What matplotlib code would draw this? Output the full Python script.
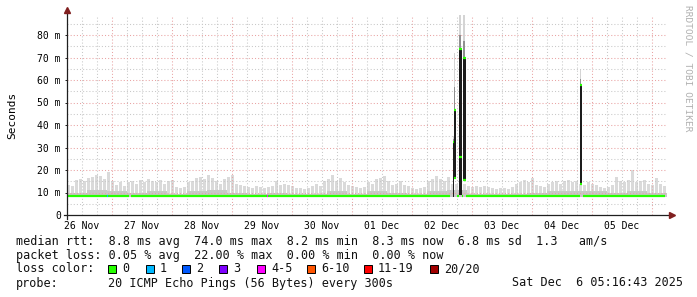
import numpy as np
import matplotlib
matplotlib.use("Agg")
import matplotlib.pyplot as plt
from matplotlib.lines import Line2D
from matplotlib.patches import Rectangle

# x axis: hours since 26 Nov 06:00, 10 days shown
day_labels = ["26 Nov", "27 Nov", "28 Nov", "29 Nov", "30 Nov",
              "01 Dec", "02 Dec", "03 Dec", "04 Dec", "05 Dec"]

# upper edge of the smoke (ms), one value per 1.6 h
smoke_hi = [
    13.5, 13.0, 15.5, 16.0, 15.0, 16.5, 17.0, 18.0, 17.5, 16.0, 19.0, 15.0, 13.5, 14.5, 13.0,
    14.5, 15.0, 14.0, 15.5, 14.5, 16.0, 15.0, 14.5, 15.5, 14.0, 15.0, 15.5, 12.5, 12.0, 12.5,
    14.5, 15.0, 16.5, 17.0, 16.0, 18.0, 16.5, 15.0, 14.0, 16.0, 17.0, 18.0, 14.0, 13.5, 13.0,
    12.5, 12.0, 13.0, 12.5, 12.0, 12.5, 13.0, 15.0, 13.5, 14.0, 13.5, 13.0, 12.0, 12.0, 11.5,
    12.0, 13.0, 14.0, 13.0, 15.0, 16.0, 18.0, 15.0, 16.5, 14.5, 13.5, 13.0, 12.5, 12.0, 12.5,
    14.5, 14.0, 16.0, 16.5, 17.5, 15.0, 13.5, 14.0, 15.0, 13.5, 13.0, 12.0, 11.5, 12.0, 12.5,
    15.0, 16.0, 17.5, 16.0, 15.0, 17.0, 14.0, 14.0, 14.0, 14.0, 13.0, 12.5, 13.0, 12.5, 13.0,
    12.5, 12.0, 11.5, 12.0, 12.0, 11.5, 12.5, 14.0, 14.5, 15.5, 14.5, 16.5, 13.5, 13.0, 12.5,
    14.0, 14.5, 15.0, 14.0, 15.0, 15.5, 14.5, 15.0, 14.0, 13.5, 14.5, 14.0, 13.5, 12.5, 12.0,
    12.5, 13.5, 17.0, 15.0, 14.5, 15.5, 20.0, 14.5, 15.0, 15.5, 14.0, 13.5, 16.5, 14.0, 13.0,
]
# top of the dense (darker) smoke band (ms), one value per 8 h
smoke_mid = [
    10.0, 11.0, 10.5, 10.0, 10.5, 9.5, 10.5, 11.0, 10.0, 9.5,
    10.0, 9.5, 9.5, 10.5, 9.5, 10.5, 10.0, 9.5, 10.5, 11.0,
    9.5, 9.5, 9.5, 10.0, 10.5, 10.5, 10.5, 10.0, 10.5, 10.0,
]
smoke_floor = 8.0

# loss spikes
spike_start = [154.3, 154.8, 156.9, 158.5, 205.2]
spike_width = [0.5, 0.8, 1.1, 1.1, 0.8]
spike_low = [8.2, 16.4, 9.0, 15.5, 14.0]
spike_top = [32.6, 46.7, 74.0, 69.6, 57.8]
spike_smoke_top = [35.0, 72.0, 89.0, 89.0, 64.4]

# median rtt segments (hours, ms, loss class)
median_start = [0.0, 16.0, 16.4, 25.6, 80.0, 80.4, 154.3, 154.8, 154.8, 156.0,
                156.9, 156.9, 158.0, 158.5, 158.5, 159.6, 205.2, 205.2, 206.4]
median_end = [16.0, 16.4, 24.8, 80.0, 80.4, 153.2, 154.8, 155.6, 155.6, 156.9,
              158.0, 158.0, 158.5, 159.6, 159.6, 205.2, 206.0, 206.0, 239.2]
median_ms = [8.3, 8.3, 8.3, 8.3, 8.3, 8.3, 32.6, 46.5, 16.4, 8.3,
             74.0, 25.8, 8.3, 69.6, 15.5, 8.3, 57.8, 14.0, 8.3]
median_loss = [0, 1, 0, 0, 4, 0, 0, 0, 0, 0, 0, 0, 0, 0, 0, 0, 0, 0, 0]

loss_labels = ["0", "1", "2", "3", "4-5", "6-10", "11-19", "20/20"]
loss_colors = ["#26ff00", "#00b8ff", "#0059ff", "#7e00ff",
               "#ff00ff", "#ff5500", "#ff0000", "#a10000"]

rtt_line = "median rtt:  8.8 ms avg  74.0 ms max  8.2 ms min  8.3 ms now  6.8 ms sd  1.3   am/s"
loss_line = "packet loss: 0.05 % avg  22.00 % max  0.00 % min  0.00 % now"
probe_text = "20 ICMP Echo Pings (56 Bytes) every 300s"
stamp_text = "Sat Dec  6 05:16:43 2025"

W, H = 697, 297
MONO = "DejaVu Sans Mono"


def fx(x):
    return x / W


def fy(y):
    return 1 - y / H


fig = plt.figure(figsize=(W / 100, H / 100), dpi=100)
fig.patch.set_facecolor("white")
ax = fig.add_axes([fx(67), fy(215), 600 / W, 200 / H])
ax.set_xlim(0, 240)
ax.set_ylim(0, 200 / 2.25)
for s in ax.spines.values():
    s.set_visible(False)

# smoke
n = len(smoke_hi)
ax.bar(np.arange(n) * 1.6, np.array(smoke_hi) - smoke_floor, bottom=smoke_floor,
       width=1.2, align="edge", color="#dadada", linewidth=0, zorder=1)
m = len(smoke_mid)
ax.bar(np.arange(m) * 8.0, np.array(smoke_mid) - smoke_floor, bottom=smoke_floor,
       width=8.0, align="edge", color="#c8c8c8", linewidth=0, zorder=1.2)

# grid
minor_col, major_col = "#c8c8c8", "#e9a3a3"
for h in range(6, 240, 6):
    ax.axvline(h, color=major_col if h % 24 == 18 else minor_col,
               lw=0.75, ls=(0, (1, 2)), zorder=2)
for v in range(5, 90, 5):
    ax.axhline(v, color=major_col if v % 10 == 0 else minor_col,
               lw=0.75, ls=(0, (1, 2)), zorder=2)

# spikes
for s0, w, lo, top, gt in zip(spike_start, spike_width, spike_low, spike_top, spike_smoke_top):
    mid = top + (gt - top) * 0.4
    ax.bar(s0, mid - top, bottom=top, width=w * 0.7, align="edge", color="#909090", lw=0, zorder=3)
    ax.bar(s0, gt - mid, bottom=mid, width=w * 0.7, align="edge", color="#d4d4d4", lw=0, zorder=3)
    ax.bar(s0, top - lo, bottom=lo, width=w, align="edge", color="#1c1c1c", lw=0, zorder=3)

# median
for a, b, v, l in zip(median_start, median_end, median_ms, median_loss):
    ax.hlines(v, a, b, color=loss_colors[l], lw=1.6, zorder=4)

yt = np.arange(0, 81, 10)
ax.set_yticks(yt)
ax.set_yticklabels(["0"] + [f"{v} m" for v in yt[1:]], family=MONO, fontsize=7)
ax.set_xticks(np.arange(6, 240, 24))
ax.set_xticklabels(day_labels, family=MONO, fontsize=7)
ax.tick_params(axis="y", length=1.5, width=0.7, color="#1f1f1f", pad=3)
ax.tick_params(axis="x", length=0, pad=4)

# axes with arrows
axis_col, arrow_col = "#1f1f1f", "#801f1f"
fig.add_artist(Line2D([fx(67), fx(67)], [fy(219), fy(12)], color=axis_col, lw=0.9))
fig.add_artist(Line2D([fx(64), fx(670)], [fy(215), fy(215)], color=axis_col, lw=0.9))
fig.add_artist(Line2D([fx(67)], [fy(10)], marker="^", ms=4, color=arrow_col, lw=0))
fig.add_artist(Line2D([fx(672)], [fy(215)], marker=">", ms=4, color=arrow_col, lw=0))

fig.text(fx(12), fy(115), "Seconds", rotation=90, ha="center", va="center",
         family=MONO, fontsize=8)
fig.text(fx(688), fy(5), "RRDTOOL / TOBI OETIKER", rotation=270, ha="center", va="top",
         family=MONO, fontsize=6.8, color="#b0b0b0")

# legend
fs = 8.5
txt_col = "#111111"
fig.text(fx(16), fy(241), rtt_line, family=MONO, fontsize=fs, va="center", color=txt_col)
fig.text(fx(16), fy(255), loss_line, family=MONO, fontsize=fs, va="center", color=txt_col)
fig.text(fx(16), fy(269), "loss color:", family=MONO, fontsize=fs, va="center", color=txt_col)
box_x = [108, 146, 182, 219, 257, 307, 364, 430]
for bx, lab, col in zip(box_x, loss_labels, loss_colors):
    fig.add_artist(Rectangle((fx(bx), fy(273)), 8 / W, 8 / H, facecolor=col,
                             edgecolor="black", lw=0.7, transform=fig.transFigure))
    fig.text(fx(bx + 14), fy(269), lab, family=MONO, fontsize=fs, va="center", color=txt_col)
fig.text(fx(16), fy(283), "probe:", family=MONO, fontsize=fs, va="center", color=txt_col)
fig.text(fx(108), fy(283), probe_text, family=MONO, fontsize=fs, va="center", color=txt_col)
fig.text(fx(683), fy(283), stamp_text, family=MONO, fontsize=fs, va="center", ha="right",
         color=txt_col)

fig.savefig("out.png", dpi=100)
